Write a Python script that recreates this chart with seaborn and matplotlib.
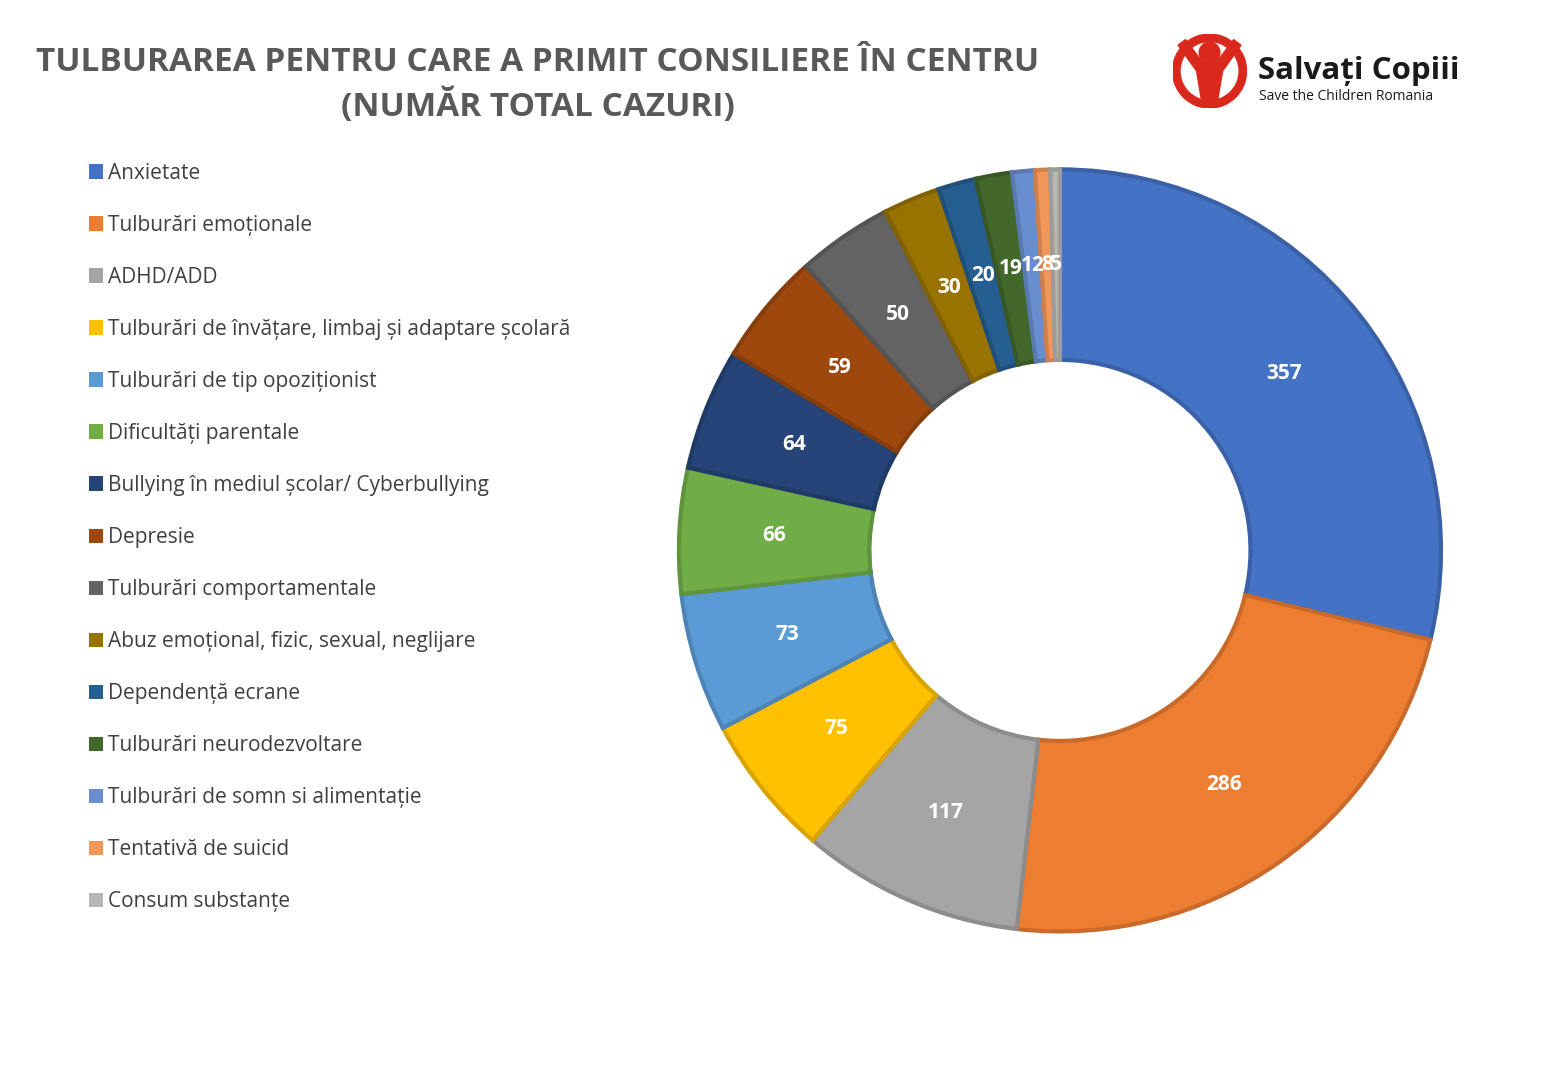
import matplotlib
matplotlib.use("Agg")
import matplotlib.pyplot as plt
import matplotlib.colors as mcolors
from matplotlib.patches import Patch, Circle, Wedge, Polygon
import seaborn as sns

categories = [
    "Anxietate",
    "Tulburări emoționale",
    "ADHD/ADD",
    "Tulburări de învățare, limbaj și adaptare școlară",
    "Tulburări de tip opoziționist",
    "Dificultăți parentale",
    "Bullying în mediul școlar/ Cyberbullying",
    "Depresie",
    "Tulburări comportamentale",
    "Abuz emoțional, fizic, sexual, neglijare",
    "Dependență ecrane",
    "Tulburări neurodezvoltare",
    "Tulburări de somn si alimentație",
    "Tentativă de suicid",
    "Consum substanțe",
]
cases = [357, 286, 117, 75, 73, 66, 64, 59, 50, 30, 20, 19, 12, 8, 5]
colors = ["#4472C4", "#ED7D31", "#A5A5A5", "#FFC000", "#5B9BD5", "#70AD47",
          "#264478", "#9E480E", "#636363", "#997300", "#255E91", "#43682B",
          "#698ED0", "#F1975A", "#B7B7B7"]

sns.set_style("white")
plt.rcParams["font.family"] = ["Open Sans", "DejaVu Sans"]

palette = sns.color_palette(colors)
edges = [tuple(c * 0.85 for c in mcolors.to_rgb(col)) for col in palette]

fig = plt.figure(figsize=(15.68, 10.75), dpi=100)
ax = fig.add_axes([0.4305, 0.130, 0.491, 0.716])

wedges, texts = ax.pie(
    cases, colors=palette, startangle=90, counterclock=False,
    labels=[str(v) for v in cases], labeldistance=0.75,
    radius=1.0, wedgeprops=dict(width=0.5, linewidth=3),
    textprops=dict(color="white", fontsize=15, fontweight="bold"),
)
for w, e in zip(wedges, edges):
    w.set_edgecolor(e)
for t in texts:
    t.set_ha("center")
    t.set_va("center")
ax.set_xlim(-1.01, 1.01)
ax.set_ylim(-1.01, 1.01)
ax.set_aspect("equal")
ax.axis("off")

handles = [Patch(facecolor=c, edgecolor="none") for c in palette]
fig.legend(handles, categories, loc="upper left", bbox_to_anchor=(0.0445, 0.866),
           frameon=False, fontsize=15, labelcolor="#404040",
           handlelength=0.7, handleheight=0.7, handletextpad=0.25,
           labelspacing=1.49)

fig.text(0.343, 0.942, "TULBURAREA PENTRU CARE A PRIMIT CONSILIERE ÎN CENTRU",
         ha="center", va="center", fontsize=24, fontweight="bold", color="#595959")
fig.text(0.343, 0.901, "(NUMĂR TOTAL CAZURI)",
         ha="center", va="center", fontsize=24, fontweight="bold", color="#595959")

# logo
lax = fig.add_axes([0.7478, 0.8995, 0.0472, 0.0688])
lax.set_xlim(-1, 1)
lax.set_ylim(-1, 1)
lax.set_aspect("equal")
lax.axis("off")
red = "#DA291C"
lax.add_patch(Wedge((0, 0), 1.0, 0, 360, width=0.2, color=red))
lax.add_patch(Circle((0, 0.5), 0.28, color=red))
lax.add_patch(Polygon([(-0.85, 0.7), (-0.65, 0.85), (-0.2, 0.25), (0.2, 0.25),
                       (0.65, 0.85), (0.85, 0.7), (0.35, 0.0), (0.2, -0.9),
                       (-0.2, -0.9), (-0.35, 0.0)], color=red))
fig.text(0.802, 0.934, "Salvați Copiii", ha="left", va="center",
         fontsize=22.5, fontweight="bold", color="#1a1a1a")
fig.text(0.803, 0.910, "Save the Children Romania", ha="left", va="center",
         fontsize=10, color="#1a1a1a")

fig.savefig("out.png", dpi=100)
